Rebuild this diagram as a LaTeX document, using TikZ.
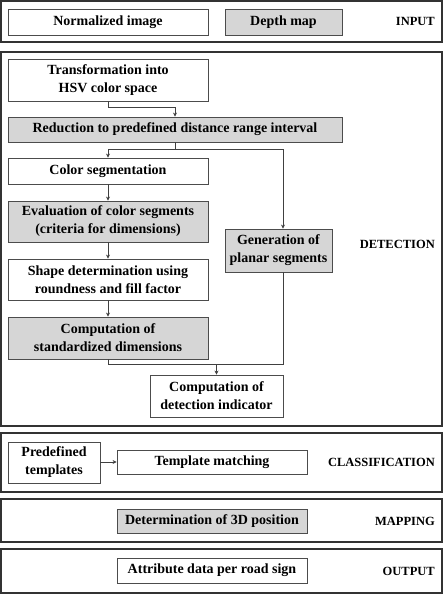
\documentclass[tikz,border=0pt]{standalone}
\usepackage{fontspec}
\setmainfont{Liberation Serif}
\usetikzlibrary{positioning}
\usetikzlibrary{arrows.meta}
\tikzset{
panel/.style={ % outer frame of each stage
draw=black!80, line width=1.1pt, inner sep=0pt},
box/.style={ % white processing step
draw=black!70, line width=0.8pt, fill=white, inner sep=0pt, align=center,
font=\fontsize{14}{18}\selectfont\bfseries},
gbox/.style={ % grey processing step
box, fill=black!16},
stage/.style={ % stage name on the right
anchor=east, inner sep=0pt, font=\fontsize{12.5}{15}\selectfont\bfseries},
flow/.style={ % connector with small filled tip
draw=black!75, line width=0.8pt, -{Stealth[length=4pt,width=4pt]}},
line/.style={draw=black!75, line width=0.8pt}}

\begin{document}
\begin{tikzpicture}[x=1pt,y=-1pt]
\useasboundingbox (0,0) rectangle (445,597);
% stage frames
\node[panel, minimum width=441pt, minimum height=41pt] (pin) at (221.5,21.5) {};
\node[panel, minimum width=441pt, minimum height=374pt] (pdet) at (221.5,239) {};
\node[panel, minimum width=441pt, minimum height=59pt] (pcls) at (221.5,462.5) {};
\node[panel, minimum width=441pt, minimum height=43pt] (pmap) at (221.5,520.5) {};
\node[panel, minimum width=441pt, minimum height=44pt] (pout) at (221.5,571) {};
\node[stage] (lin) at (435,21.5) {INPUT};
\node[stage] (ldet) at (435,244) {DETECTION};
\node[stage] (lcls) at (435,462) {CLASSIFICATION};
\node[stage] (lmap) at (435,521) {MAPPING};
\node[stage] (lout) at (435,571) {OUTPUT};
% input
\node[box, minimum width=200pt, minimum height=26pt] (norm) at (108,22) {Normalized image};
\node[gbox, minimum width=117pt, minimum height=26pt] (depth) at (283.5,22) {Depth map};
% detection
\node[box, minimum width=200pt, minimum height=42pt] (hsv) at (108,80) {Transformation into\\HSV color space};
\node[gbox, minimum width=334pt, minimum height=25pt] (red) at (175,129.5) {Reduction to predefined distance range interval};
\node[box, minimum width=200pt, minimum height=26pt] (colseg) at (108,171) {Color segmentation};
\node[gbox, minimum width=200pt, minimum height=41pt] (evalc) at (108,221.5) {Evaluation of color segments\\(criteria for dimensions)};
\node[box, minimum width=200pt, minimum height=41pt] (shape) at (108,279.5) {Shape determination using\\roundness and fill factor};
\node[gbox, minimum width=200pt, minimum height=42pt] (stdim) at (108,338) {Computation of\\standardized dimensions};
\node[gbox, minimum width=107pt, minimum height=43pt] (plan) at (278.5,250.5) {Generation of\\planar segments};
\node[box, minimum width=133pt, minimum height=42pt] (ind) at (216.5,396) {Computation of\\detection indicator};
\coordinate (pl) at (283,0);
\coordinate (mrg) at (216.5,364);
\draw[flow] (hsv.south) -- ++(0,6) -| (red.north);
\draw[flow] (red.south) -- ++(0,7) -| (colseg.north);
\draw[flow] (red.south) -- ++(0,7) -| (pl |- plan.north);
\draw[flow] (colseg) -- (evalc);
\draw[flow] (evalc) -- (shape);
\draw[flow] (shape) -- (stdim);
\draw[line] (stdim.south) |- (mrg);
\draw[line] (pl |- plan.south) |- (mrg);
\draw[flow] (mrg) -- (ind.north);
% classification
\node[box, minimum width=92pt, minimum height=41pt] (tmpl) at (54,462.5) {Predefined\\templates};
\node[box, minimum width=190pt, minimum height=24pt] (match) at (212,462) {Template matching};
\draw[flow] (tmpl.east |- match) -- (match.west);
% mapping and output
\node[gbox, minimum width=190pt, minimum height=24pt] (pos) at (212,521) {Determination of 3D position};
\node[box, minimum width=190pt, minimum height=25pt] (attr) at (212,570.5) {Attribute data per road sign};
\end{tikzpicture}
\end{document}
